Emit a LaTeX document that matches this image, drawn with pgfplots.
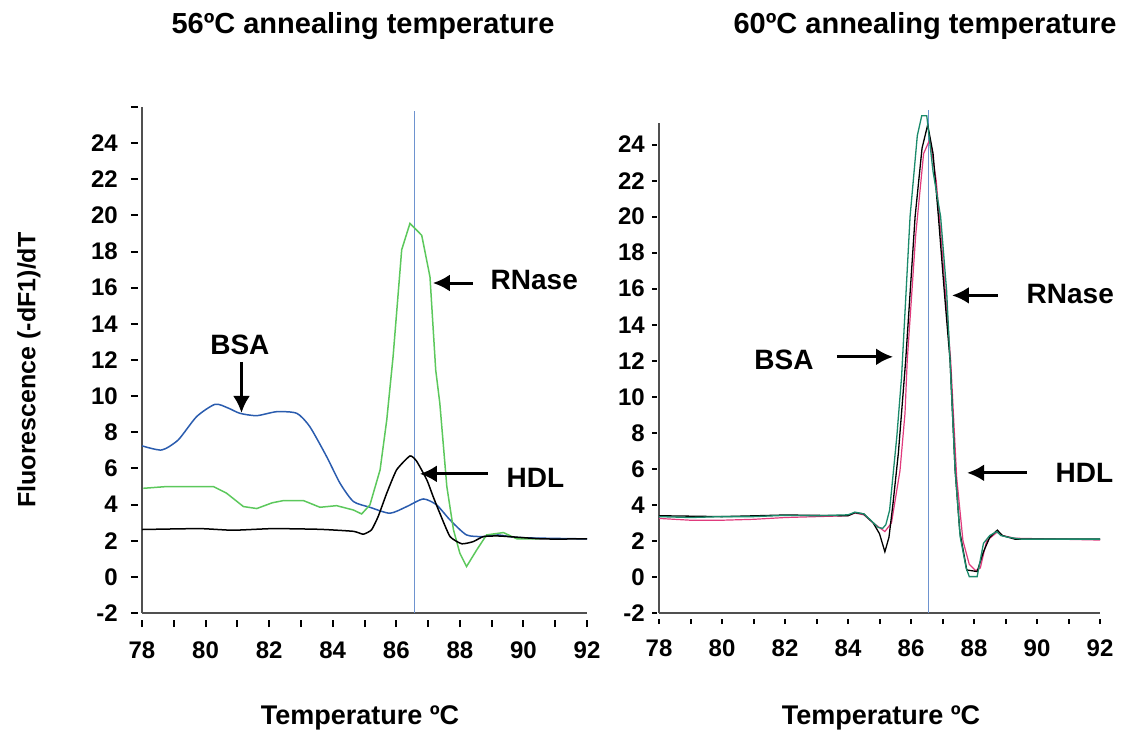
\documentclass[border=0pt]{standalone}
\usepackage{fontspec}
\setmainfont{Liberation Sans}
\usepackage{pgfplots}
\pgfplotsset{compat=1.18}
\usetikzlibrary{arrows.meta}

\definecolor{cblue}{HTML}{2A5CAE}
\definecolor{cgreen}{HTML}{5CC85C}
\definecolor{cursor}{HTML}{6E93CF}
\definecolor{cteal}{HTML}{1B8A6B}
\definecolor{cpink}{HTML}{E03A7C}
\definecolor{axgray}{HTML}{505050}

\newcommand\bsz[1]{\fontsize{#1}{#1}\selectfont\bfseries}

\pgfplotsset{
  melt/.style={
    scale only axis, xmin=78, xmax=92, ymin=-2,
    axis lines=left, axis line style={-, line width=2pt, draw=axgray},
    xtick={78,...,92},
    xticklabels={78,,80,,82,,84,,86,,88,,90,,92},
    tick align=outside, major tick length=7pt,
    every x tick/.append style={line width=2pt, black, yshift=-7pt},
    xticklabel style={font=\bsz{24}, inner sep=0pt, anchor=north},
    yticklabel style={font=\bsz{24}, inner sep=0pt, anchor=east},
    xticklabel shift=22pt,
    clip=false,
  },
}
\tikzset{
  arr/.style={-{Latex[length=17pt,width=17pt]}, line width=3pt},
  lab/.style={font=\bsz{28}},
}

\begin{document}
\begin{tikzpicture}
\path[use as bounding box] (0,0) rectangle (1123pt,731pt);

% 56 C
\begin{axis}[melt, at={(142pt,118pt)}, anchor=south west,
  width=445pt, height=506pt, ymax=26,
  every y tick/.append style={line width=2pt, black, xshift=-4pt},
  yticklabel shift=17pt,
  ytick={-2,0,2,4,6,8,10,12,14,16,18,20,22,24,26},
  yticklabels={-2,0,2,4,6,8,10,12,14,16,18,20,22,24,{}}]
\addplot[cursor, line width=1.2pt] coordinates {(86.57,-2) (86.57,25.8)};
% BSA
\addplot[cblue, line width=1.5pt, smooth, tension=0.4] coordinates {
  (78.0,7.25) (78.62,7.02) (79.14,7.58) (79.72,8.87) (80.30,9.55) (80.7,9.35)
  (81.08,9.05) (81.61,8.92) (82.24,9.14) (82.87,9.05) (83.28,8.31) (83.81,6.65)
  (84.23,5.18) (84.65,4.17) (85.17,3.85) (85.80,3.52) (86.33,3.89) (86.85,4.31)
  (87.27,3.98) (87.69,3.15) (88.21,2.32) (88.74,2.23) (89.2,2.32) (89.89,2.17) (92,2.1)};
% RNase
\addplot[cgreen, line width=1.5pt] coordinates {
  (78.04,4.9) (78.8,5.0) (80.24,5.0) (80.66,4.63) (81.19,3.89) (81.61,3.78)
  (82.1,4.1) (82.45,4.22) (83.08,4.22) (83.6,3.85) (84.12,3.94) (84.65,3.7)
  (84.91,3.48) (85.17,3.98) (85.49,5.92) (85.7,8.68) (85.9,12.2) (86.17,18.1)
  (86.43,19.56) (86.8,18.9) (87.06,16.6) (87.24,11.45) (87.37,9.6) (87.59,5.0)
  (87.8,2.6) (88.0,1.31) (88.21,0.57) (88.53,1.49) (88.84,2.32) (89.37,2.45)
  (89.8,2.1) (90.5,2.1)};
% HDL
\addplot[black, line width=1.5pt, smooth, tension=0.3] coordinates {
  (78,2.62) (79.81,2.67) (80.86,2.58) (82.12,2.67) (83.6,2.63) (84.65,2.52)
  (84.96,2.36) (85.22,2.6) (85.43,3.34) (85.7,4.63) (86.01,5.92) (86.43,6.69)
  (86.64,6.4) (86.96,5.37) (87.16,4.44) (87.37,3.52) (87.69,2.23) (88.06,1.83)
  (88.42,1.95) (88.74,2.23) (89.26,2.26) (90.6,2.1) (92,2.1)};
\node[lab, anchor=west] at (axis cs:88.86,16.4) {RNase};
\draw[arr] (axis cs:88.41,16.26) -- (axis cs:87.15,16.26);
\node[lab] at (axis cs:81.08,12.83) {BSA};
\draw[arr] (axis cs:81.13,11.89) -- (axis cs:81.13,9.07);
\node[lab, anchor=west] at (axis cs:89.36,5.48) {HDL};
\draw[arr] (axis cs:88.88,5.7) -- (axis cs:86.74,5.7);
\end{axis}

% 60 C
\begin{axis}[melt, at={(659pt,118pt)}, anchor=south west,
  width=441pt, height=490pt, ymax=25.2,
  every y tick/.append style={line width=2pt, black, xshift=-2pt},
  major tick length=5pt, yticklabel shift=9pt,
  every x tick/.append style={yshift=1pt},
  ytick={-2,0,2,4,6,8,10,12,14,16,18,20,22,24},
  yticklabels={-2,0,2,4,6,8,10,12,14,16,18,20,22,24}]
\addplot[cursor, line width=1.2pt] coordinates {(86.55,-2) (86.55,25.9)};
\addplot[cpink, line width=1.2pt] coordinates {
  (78,3.25) (79,3.15) (80,3.15) (81,3.2) (82,3.3) (83,3.35) (84,3.4) (84.22,3.55)
  (84.5,3.45) (84.8,3.0) (85.17,2.52) (85.38,3.0) (85.65,5.9) (85.81,9.1)
  (85.88,12.0) (86.15,19) (86.4,23.5) (86.6,24.3) (86.8,22) (86.95,19) (87.1,15.6)
  (87.26,12) (87.45,5.5) (87.65,2.0) (87.85,0.7) (88.05,0.35) (88.2,0.5) (88.4,2.0)
  (88.74,2.5) (88.9,2.3) (89.3,2.15) (92,2.05)};
\addplot[black, line width=1.3pt] coordinates {
  (78,3.4) (80,3.35) (82,3.44) (84,3.4) (84.22,3.57) (84.5,3.5) (84.8,3.0)
  (85.0,2.4) (85.17,1.4) (85.3,2.2) (85.43,4.1) (85.6,6.9) (85.83,12.0)
  (86.13,20.0) (86.35,23.8) (86.53,25.1) (86.7,23.5) (86.87,20.0) (87.05,16)
  (87.24,12.0) (87.4,5.94) (87.55,2.5) (87.77,0.39) (88.1,0.3) (88.3,1.4)
  (88.5,2.2) (88.74,2.6) (88.9,2.3) (89.3,2.1) (92,2.1)};
\addplot[cteal, line width=1.3pt] coordinates {
  (78,3.35) (79,3.3) (80,3.35) (81,3.35) (82,3.42) (83,3.4) (84,3.45) (84.22,3.6)
  (84.5,3.5) (84.75,3.1) (84.96,2.75) (85.1,2.7) (85.2,2.9) (85.32,3.7)
  (85.55,7.8) (85.7,11.1) (85.97,20.0) (86.2,24.5) (86.34,25.6) (86.5,25.6)
  (86.7,22.5) (86.94,20.0) (87.13,15.9) (87.24,12.0) (87.4,5.94) (87.56,2.24)
  (87.75,0.5) (87.85,0.02) (88.1,0.02) (88.3,1.87) (88.5,2.3) (88.72,2.52)
  (88.85,2.3) (89.1,2.2) (89.5,2.1) (92,2.1)};
\node[lab, anchor=west] at (axis cs:89.56,15.72) {RNase};
\draw[arr] (axis cs:88.76,15.63) -- (axis cs:87.30,15.63);
\node[lab, anchor=east] at (axis cs:83.02,12.06) {BSA};
\draw[arr] (axis cs:83.65,12.22) -- (axis cs:85.43,12.22);
\node[lab, anchor=west] at (axis cs:90.48,5.78) {HDL};
\draw[arr] (axis cs:89.68,5.78) -- (axis cs:87.78,5.78);
\end{axis}

\node[font=\bsz{29}, anchor=base] at (363pt,697.7pt) {56ºC annealing temperature};
\node[font=\bsz{29}, anchor=base east] at (1120pt,697.7pt) {60ºC annealing temperature};
\node[font=\bsz{25}, rotate=90] at (29pt,361pt) {Fluorescence (-dF1)/dT};
\node[font=\bsz{27}, anchor=base] at (360pt,7pt) {Temperature ºC};
\node[font=\bsz{27}, anchor=base] at (881pt,7pt) {Temperature ºC};
\end{tikzpicture}
\end{document}
